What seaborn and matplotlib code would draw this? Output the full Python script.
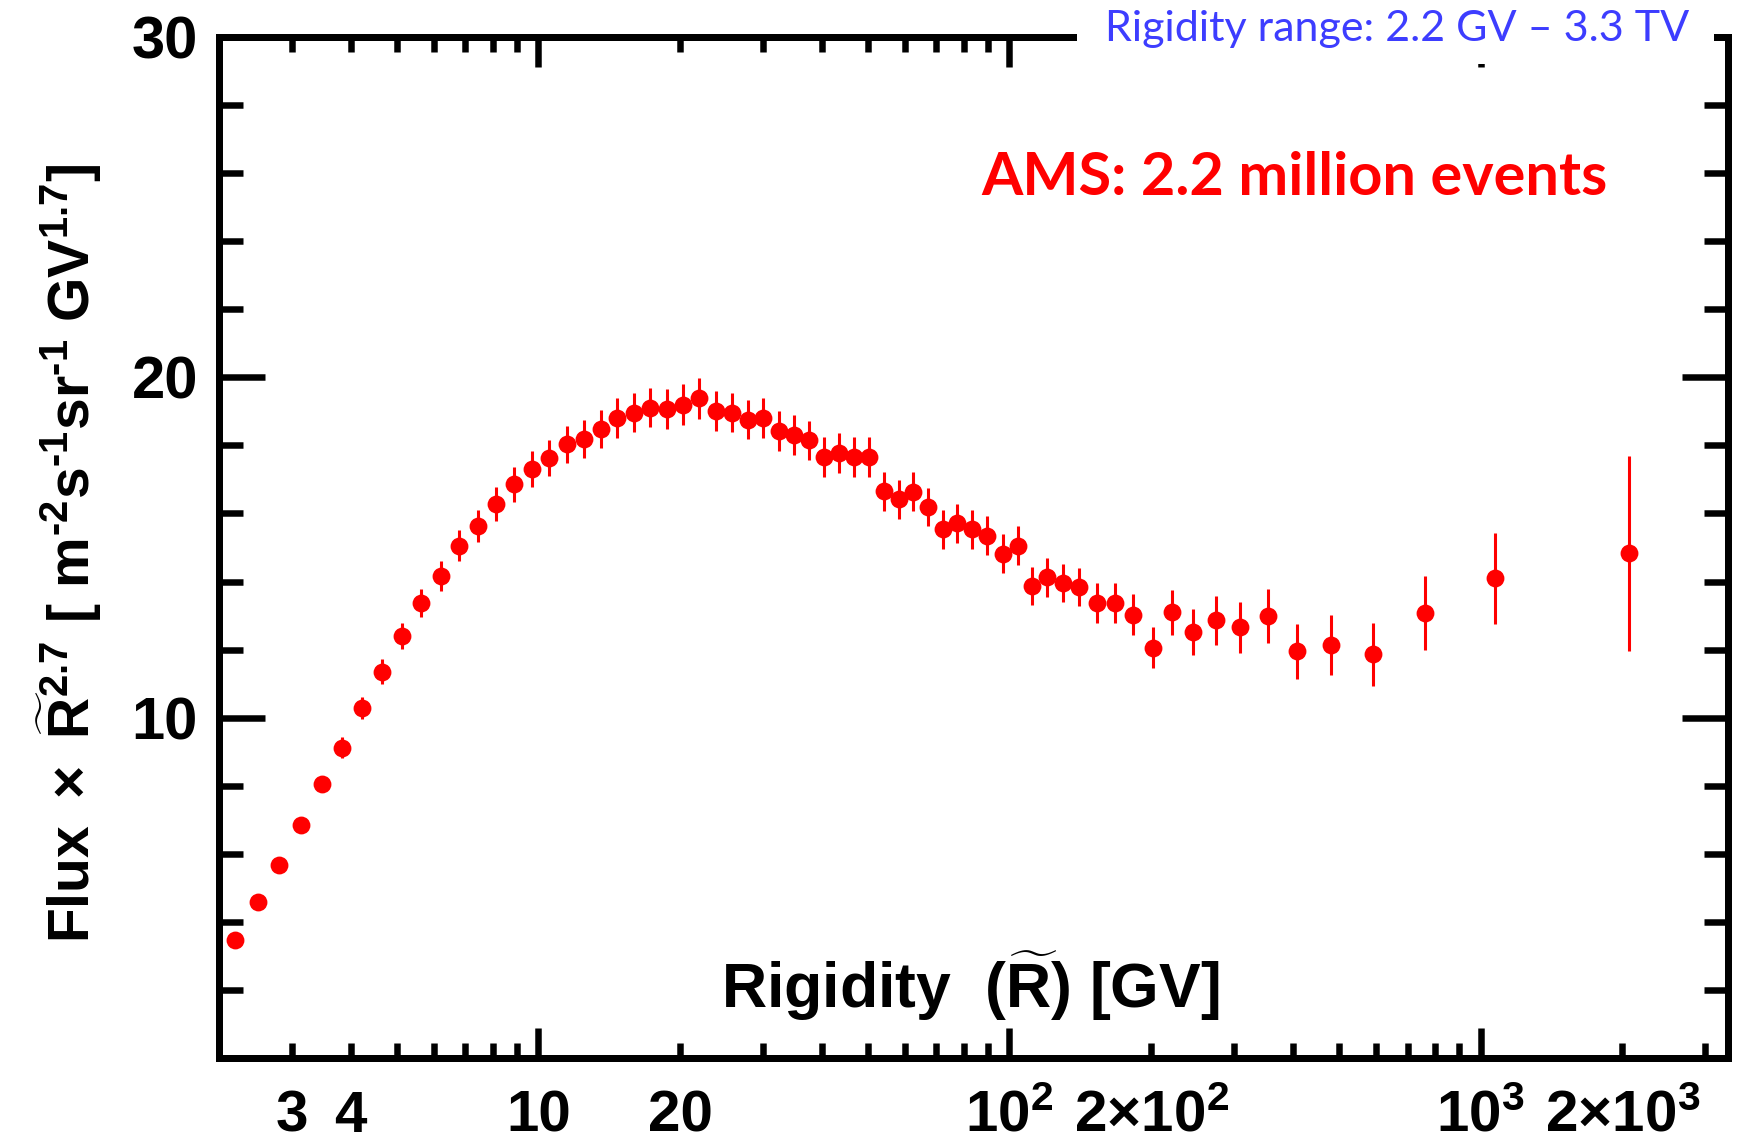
import numpy as np
import pandas as pd
import matplotlib
matplotlib.use("Agg")
import matplotlib.pyplot as plt
import seaborn as sns
from matplotlib.ticker import FixedLocator, FuncFormatter
from matplotlib.patches import Rectangle

# ---------------- data ----------------
rigidity = [2.27, 2.54, 2.82, 3.13, 3.48, 3.83, 4.22, 4.66, 5.13, 5.64,
            6.20, 6.80, 7.44, 8.12, 8.87, 9.70, 10.55, 11.51, 12.49, 13.57,
            14.72, 15.99, 17.29, 18.76, 20.28, 21.97, 23.79, 25.72, 27.81, 29.92,
            32.35, 34.81, 37.46, 40.30, 43.42, 46.72, 50.25, 54.09, 58.20, 62.44,
            67.18, 72.38, 77.50, 83.40, 89.75, 96.69, 104.0, 111.9, 120.4, 129.9,
            140.8, 153.5, 167.4, 183.3, 201.6, 221.7, 245.7, 274.0, 309.0, 353.8,
            408.1, 481.3, 589.7, 761.2, 1071, 2064]
flux = [3.47, 4.58, 5.68, 6.85, 8.05, 9.12, 10.29, 11.35, 12.39, 13.38,
        14.15, 15.05, 15.63, 16.28, 16.86, 17.31, 17.63, 18.03, 18.19, 18.48,
        18.81, 18.96, 19.11, 19.06, 19.20, 19.38, 19.01, 18.96, 18.76, 18.81,
        18.42, 18.30, 18.15, 17.66, 17.78, 17.66, 17.66, 16.65, 16.42, 16.64,
        16.19, 15.53, 15.71, 15.53, 15.35, 14.82, 15.05, 13.87, 14.12, 13.96,
        13.83, 13.36, 13.36, 13.03, 12.06, 13.10, 12.52, 12.86, 12.65, 12.99,
        11.95, 12.13, 11.86, 13.07, 14.09, 14.83]
flux_err = [0.15, 0.17, 0.19, 0.21, 0.24, 0.30, 0.32, 0.36, 0.38, 0.41,
            0.44, 0.46, 0.48, 0.50, 0.52, 0.54, 0.54, 0.55, 0.56, 0.57,
            0.58, 0.58, 0.58, 0.59, 0.60, 0.60, 0.58, 0.58, 0.58, 0.58,
            0.58, 0.58, 0.58, 0.58, 0.58, 0.58, 0.58, 0.57, 0.57, 0.57,
            0.57, 0.57, 0.57, 0.57, 0.57, 0.57, 0.57, 0.56, 0.56, 0.56,
            0.56, 0.59, 0.59, 0.60, 0.61, 0.66, 0.68, 0.72, 0.75, 0.80,
            0.80, 0.88, 0.92, 1.09, 1.35, 2.86]

x_major_ticks = [10, 100, 1000]
x_major_labels = ["10", r"$10^{2}$", r"$10^{3}$"]
x_minor_subs = [2, 3, 4, 5, 6, 7, 8, 9]
x_minor_labeled = {3: "3", 4: "4", 20: "20",
                   200: r"$2{\times}10^{2}$", 2000: r"$2{\times}10^{3}$"}
y_major_ticks = [0, 10, 20, 30]
y_major_labels = ["", "10", "20", "30"]
y_minor_ticks = [2, 4, 6, 8, 12, 14, 16, 18, 22, 24, 26, 28]

xlabel_text = r"Rigidity  ($\widetilde{\mathrm{R}}$) [GV]"
ylabel_text = ("$\\mathrm{Flux}\\ \\times\\ \\widetilde{\\mathrm{R}}^{2.7}\\ [\\ "
               "\\mathrm{m}^{\u2010 2}\\mathrm{s}^{\u2010 1}\\mathrm{sr}^{\u2010 1}"
               "\\ \\mathrm{GV}^{1.7}]$")
ams_text = "AMS: 2.2 million events"
range_text = "Rigidity range: 2.2 GV \u2013 3.3 TV"

df = pd.DataFrame({"rigidity": rigidity, "flux": flux, "err": flux_err})

# ---------------- style ----------------
sns.set_theme(style="ticks")
plt.rcParams["font.family"] = ["Liberation Sans", "DejaVu Sans"]
plt.rcParams["font.weight"] = "bold"
plt.rcParams["mathtext.fontset"] = "custom"
plt.rcParams["mathtext.rm"] = "Liberation Sans:bold"
plt.rcParams["mathtext.it"] = "Liberation Sans:bold"
plt.rcParams["mathtext.bf"] = "Liberation Sans:bold"
plt.rcParams["mathtext.sf"] = "Liberation Sans:bold"

W, H = 1741, 1145
fig = plt.figure(figsize=(W / 100, H / 100), dpi=100, facecolor="white")
ax = fig.add_axes([219 / W, 1 - 1058 / H, (1728 - 219) / W, (1058 - 37) / H])
ax.set_facecolor("white")

ax.errorbar(df["rigidity"], df["flux"], yerr=df["err"], fmt="none",
            ecolor="#ff0000", elinewidth=2.2, capsize=0, zorder=2)
sns.scatterplot(data=df, x="rigidity", y="flux", color="#ff0000", s=165,
                linewidth=0, ax=ax, zorder=3, legend=False)

ax.set_xscale("log")
ax.set_xlim(2.1, 3350)
ax.set_ylim(0, 30)

xmin, xmax = ax.get_xlim()
minor_ticks = [s * 10 ** d for d in range(0, 4) for s in x_minor_subs]
minor_ticks = [t for t in minor_ticks if xmin <= t <= xmax]
ax.xaxis.set_major_locator(FixedLocator(x_major_ticks))
ax.xaxis.set_major_formatter(FuncFormatter(
    lambda v, p: x_major_labels[x_major_ticks.index(int(round(v)))]
    if int(round(v)) in x_major_ticks else ""))
ax.xaxis.set_minor_locator(FixedLocator(minor_ticks))
ax.xaxis.set_minor_formatter(FuncFormatter(
    lambda v, p: x_minor_labeled.get(int(round(v)), "")))

ax.yaxis.set_major_locator(FixedLocator(y_major_ticks))
ax.yaxis.set_major_formatter(FuncFormatter(
    lambda v, p: y_major_labels[y_major_ticks.index(int(round(v)))]))
ax.yaxis.set_minor_locator(FixedLocator(y_minor_ticks))

pt = 72 / 100  # points per pixel
ax.tick_params(axis="x", which="major", direction="in", top=True, bottom=True,
               length=30 * pt, width=6.5 * pt, labelsize=42, pad=74 * pt,
               color="black", labelcolor="black")
ax.tick_params(axis="x", which="minor", direction="in", top=True, bottom=True,
               length=15 * pt, width=6.5 * pt, labelsize=42, pad=74 * pt,
               color="black", labelcolor="black")
ax.tick_params(axis="y", which="major", direction="in", left=True, right=True,
               length=46 * pt, width=6.5 * pt, labelsize=43, pad=21 * pt,
               color="black", labelcolor="black")
ax.tick_params(axis="y", which="minor", direction="in", left=True, right=True,
               length=24 * pt, width=6.5 * pt, color="black")

for sp in ax.spines.values():
    sp.set_visible(True)
    sp.set_color("black")
    sp.set_linewidth(7 * pt)
    sp.set_capstyle("projecting")

for t in ax.xaxis.get_major_ticks() + ax.xaxis.get_minor_ticks():
    t.label1.set_verticalalignment("baseline")

ax.set_xlabel(xlabel_text, fontsize=45, fontweight="bold", color="black")
ax.xaxis.label.set_verticalalignment("baseline")
ax.xaxis.set_label_coords(0.498, (1058 - 1008) / (1058 - 37))

ax.set_ylabel(ylabel_text, fontsize=41, color="black")
ax.yaxis.set_label_coords((104 - 219) / (1728 - 219), 0.494)

# white patch hiding the frame behind the range note
fig.add_artist(Rectangle((1077 / W, 1 - 64 / H), (1714 - 1077) / W, 64 / H,
                         transform=fig.transFigure, facecolor="white",
                         edgecolor="none", zorder=5))

t_range = fig.text(1105 / W, 1 - 41 / H, range_text, color="#3d3dff",
                   fontsize=28, fontweight="normal", family=["Lato", "DejaVu Sans"],
                   ha="left", va="baseline", zorder=6)
t_ams = ax.text((981 - 219) / (1728 - 219), (1058 - 195) / (1058 - 37), ams_text,
                transform=ax.transAxes, color="#ff0000", fontsize=42,
                fontweight="bold", family=["Lato", "DejaVu Sans"],
                ha="left", va="baseline", zorder=6)

renderer = fig.canvas.get_renderer()
for t, target in [(t_range, 585), (t_ams, 626)]:
    w = t.get_window_extent(renderer=renderer).width
    t.set_fontsize(t.get_fontsize() * target / w)

fig.savefig("out.png", dpi=100, facecolor="white")
